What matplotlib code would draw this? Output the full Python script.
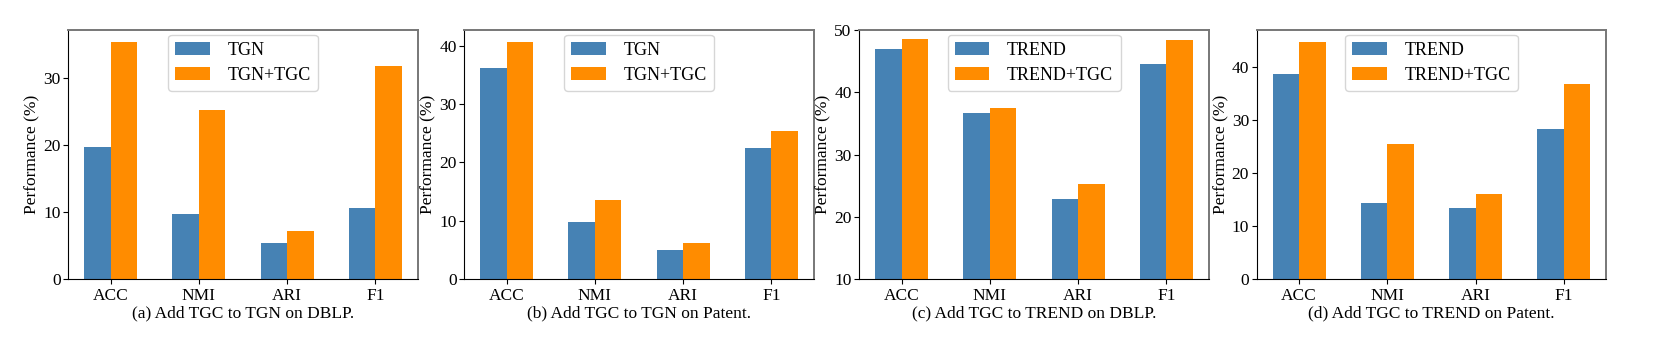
import matplotlib
matplotlib.use("Agg")
import matplotlib.pyplot as plt
import numpy as np

plt.rcParams['font.family'] = ['Liberation Serif', 'DejaVu Serif']

categories = ["ACC", "NMI", "ARI", "F1"]

base_a = [19.75, 9.75, 5.42, 10.65]
tgc_a = [35.42, 25.27, 7.21, 31.84]
base_b = [36.19, 9.82, 5.02, 22.49]
tgc_b = [40.64, 13.58, 6.22, 25.40]
base_c = [46.95, 36.68, 22.89, 44.55]
tgc_c = [48.56, 37.49, 25.29, 48.40]
base_d = [38.74, 14.40, 13.46, 28.36]
tgc_d = [44.78, 25.53, 16.10, 36.86]

panels = [
    ("TGN", base_a, tgc_a, "(a) Add TGC to TGN on DBLP.", None),
    ("TGN", base_b, tgc_b, "(b) Add TGC to TGN on Patent.", None),
    ("TREND", base_c, tgc_c, "(c) Add TGC to TREND on DBLP.", (10, 50)),
    ("TREND", base_d, tgc_d, "(d) Add TGC to TREND on Patent.", None),
]

fig = plt.figure(figsize=(16.75, 3.44), dpi=100)
lefts = [68.3, 464.3, 859.3, 1256.7]
width_px = 349.5
bottom = 1 - 279.3 / 344
top = 1 - 30 / 344
x = np.arange(len(categories))
w = 0.3
for (name, base, tgc, title, ylim), l in zip(panels, lefts):
    ax = fig.add_axes([l / 1675, bottom, width_px / 1675, top - bottom])
    ax.bar(x - w / 2, base, w, color="steelblue", label=name)
    ax.bar(x + w / 2, tgc, w, color="darkorange", label=name + "+TGC")
    ax.set_xticks(x)
    ax.set_xticklabels(categories)
    if ylim:
        ax.set_ylim(*ylim)
    ax.set_ylabel("Performance (%)", fontsize=12.5, labelpad=2)
    ax.set_xlabel(title, fontsize=12.5, labelpad=1)
    ax.tick_params(labelsize=12.5, length=3.5)
    ax.tick_params(axis="y", pad=2)
    ax.tick_params(axis="x", pad=2.5)
    for s in ("top", "right"):
        ax.spines[s].set_color("#777777")
        ax.spines[s].set_linewidth(1.4)
    for s in ("bottom", "left"):
        ax.spines[s].set_color("black")
    ax.legend(loc="upper center", fontsize=13, handlelength=1.9,
              handletextpad=1.0, borderaxespad=0.25, labelspacing=0.45)

fig.savefig("out.png", dpi=100)
